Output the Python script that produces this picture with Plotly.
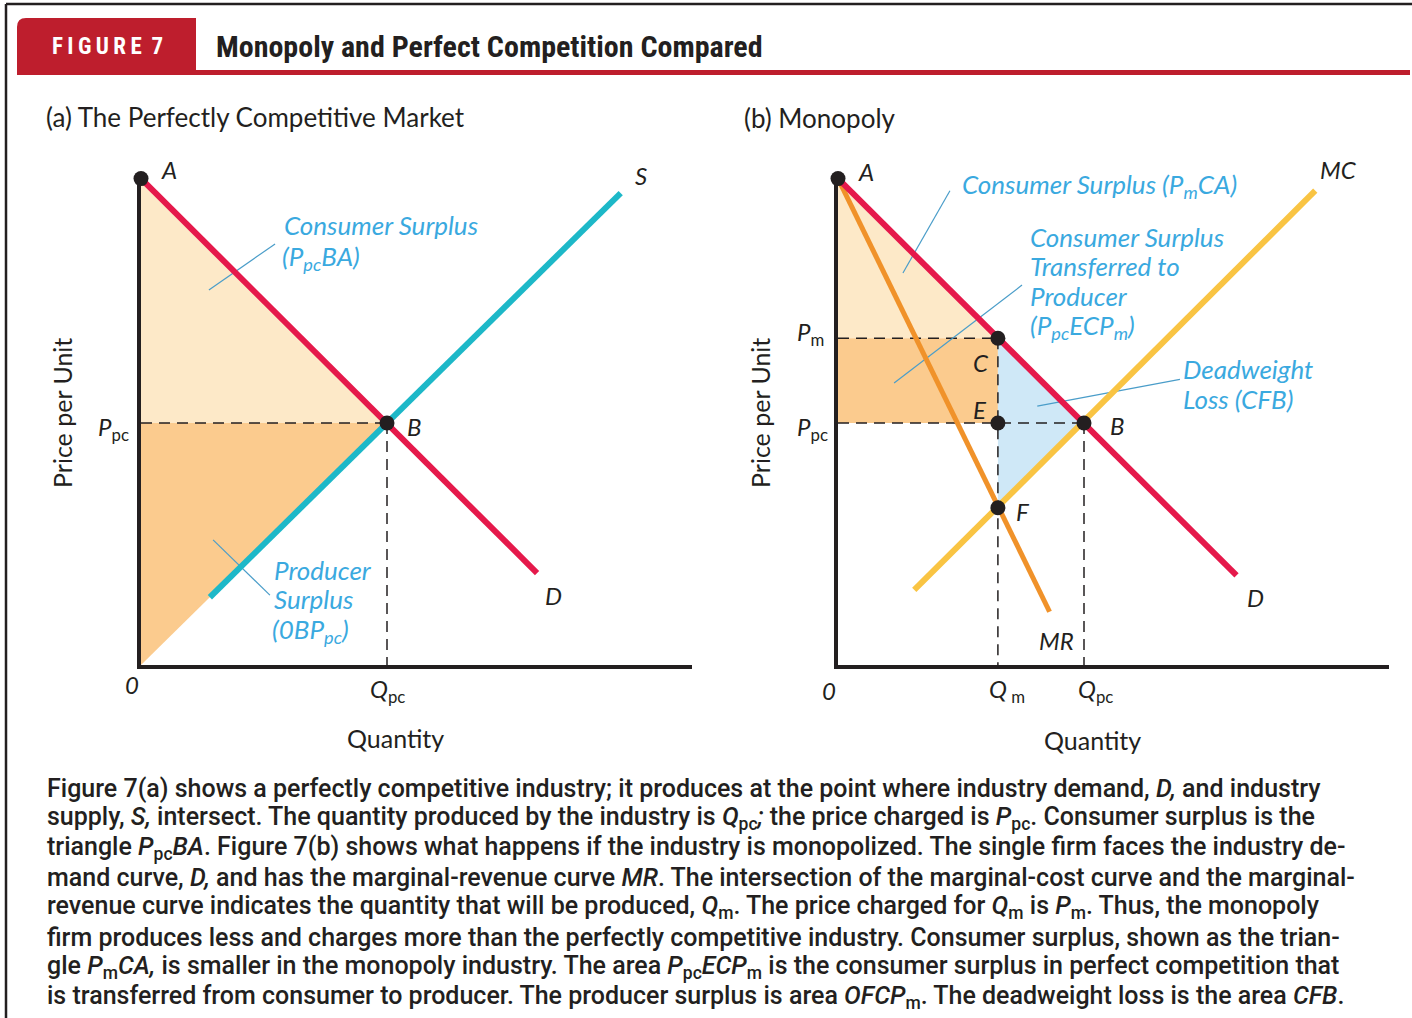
import plotly.graph_objects as go

W, H = 1412, 1018

# ---------------- panel (a): perfectly competitive market ----------------
a_choke = 20.1                  # demand price intercept (point A)
q_pc_a, p_pc_a = 10.0, 10.0     # competitive equilibrium (point B)
a_demand_q = [0.0, 16.1]
a_demand_p = [20.1, 3.8]
a_supply_q = [2.8, 19.5]
a_supply_p = [2.8, 19.5]

# ---------------- panel (b): monopoly ----------------
b_choke = 20.1
q_m, p_m = 6.5, 13.5            # monopoly output / price (point C)
q_pc_b, p_pc_b = 10.0, 10.0     # competitive output / price (point B)
p_f = 6.5                       # MR = MC (point F)
b_demand_q = [0.0, 16.2]
b_demand_p = [20.1, 3.7]
b_mr_q = [0.0, 8.6]
b_mr_p = [20.1, 2.2]
b_mc_q = [3.1, 19.4]
b_mc_p = [3.1, 19.6]

X_MAX = 22.4
Y_MAX = 20.1

# colours
RED = "#E5194B"
CYAN = "#1DB8C8"
ORANGE = "#F0922A"
GOLD = "#F9C443"
PEACH = "#FDE9C8"
TAN = "#FBCB8E"
ICE = "#CFE8F7"
INK = "#231F20"
BLUE_TXT = "#3AA9DF"
LEADER = "#4A9DC9"
BRAND = "#BE1E2D"

GEO = "Lato, 'Noto Sans', sans-serif"
NARROW = "'Roboto Condensed', Roboto, sans-serif"
BODY = "Roboto, 'Roboto Condensed', sans-serif"


def px(x):
    return x / W


def py(y):
    return 1 - y / H


fig = go.Figure()


def poly(xs, ys, color, xa, ya):
    fig.add_trace(go.Scatter(x=xs, y=ys, fill="toself", fillcolor=color, mode="lines",
                             line=dict(width=0), xaxis=xa, yaxis=ya, hoverinfo="skip"))


def line(xs, ys, color, width, xa, ya, dash=None):
    fig.add_trace(go.Scatter(x=xs, y=ys, mode="lines",
                             line=dict(color=color, width=width, dash=dash),
                             xaxis=xa, yaxis=ya, hoverinfo="skip", cliponaxis=False))


def dots(xs, ys, xa, ya):
    fig.add_trace(go.Scatter(x=xs, y=ys, mode="markers", marker=dict(color=INK, size=15),
                             xaxis=xa, yaxis=ya, hoverinfo="skip", cliponaxis=False))


DASH = "11px,7px"

# ---- panel (a) ----
poly([0, q_pc_a, 0], [p_pc_a, p_pc_a, a_choke], PEACH, "x", "y")
poly([0, q_pc_a, 0], [0, p_pc_a, p_pc_a], TAN, "x", "y")
line([0, q_pc_a], [p_pc_a, p_pc_a], INK, 1.5, "x", "y", DASH)
line([q_pc_a, q_pc_a], [p_pc_a, 0], INK, 1.5, "x", "y", DASH)
# leader lines for the surplus labels
line([2.76, 5.45], [15.5, 17.4], LEADER, 1.2, "x", "y")
line([2.93, 5.24], [5.17, 2.89], LEADER, 1.2, "x", "y")
line(a_supply_q, a_supply_p, CYAN, 6, "x", "y")
line(a_demand_q, a_demand_p, RED, 6, "x", "y")
dots([0, q_pc_a], [a_choke, p_pc_a], "x", "y")

# ---- panel (b) ----
poly([0, q_m, 0], [p_m, p_m, b_choke], PEACH, "x2", "y2")
poly([0, q_m, q_m, 0], [p_pc_b, p_pc_b, p_m, p_m], TAN, "x2", "y2")
poly([q_m, q_m, q_pc_b], [p_m, p_f, p_pc_b], ICE, "x2", "y2")
line([0, q_m], [p_m, p_m], INK, 1.5, "x2", "y2", DASH)
line([0, q_pc_b], [p_pc_b, p_pc_b], INK, 1.5, "x2", "y2", DASH)
line([q_m, q_m], [p_m, 0], INK, 1.5, "x2", "y2", DASH)
line([q_pc_b, q_pc_b], [p_pc_b, 0], INK, 1.5, "x2", "y2", DASH)
line([2.64, 4.55], [16.2, 19.6], LEADER, 1.2, "x2", "y2")
line([2.28, 7.48], [11.65, 15.7], LEADER, 1.2, "x2", "y2")
line([8.1, 13.9], [10.7, 11.8], LEADER, 1.2, "x2", "y2")
line(b_mc_q, b_mc_p, GOLD, 6, "x2", "y2")
line(b_mr_q, b_mr_p, ORANGE, 5, "x2", "y2")
line(b_demand_q, b_demand_p, RED, 6, "x2", "y2")
dots([0, q_m, q_m, q_pc_b, q_m], [b_choke, p_m, p_pc_b, p_pc_b, p_f], "x2", "y2")

# ---- annotations ----
ann = []


def text(s, x, y, size=24, color=INK, family=GEO, xanchor="center", angle=0,
         yanchor="middle", weight=None):
    font = dict(size=size, color=color, family=family)
    if weight:
        font["weight"] = weight
    ann.append(dict(text=s, x=px(x), y=py(y), xref="paper", yref="paper", showarrow=False,
                    xanchor=xanchor, yanchor=yanchor, textangle=angle, font=font))


# header
text("F\u2009I\u2009G\u2009U\u2009R\u2009E\u2009 7", 107, 47, size=23, color="white",
     family=NARROW, weight="bold")
text("Monopoly and Perfect Competition Compared", 214, 47, size=30, family=NARROW,
     xanchor="left", weight="bold")
text("(a) The Perfectly Competitive Market", 44, 117, size=26, xanchor="left")
text("(b) Monopoly", 742, 118, size=26, xanchor="left")

BT = 26  # size of the blue callout text

# panel (a) labels
text("<i>A</i>", 169, 170)
text("<i>B</i>", 414, 426)
text("<i>S</i>", 641, 175)
text("<i>D</i>", 553, 595)
text("<i>0</i>", 132, 684)
text("<i>Q</i><sub>pc</sub>", 368, 690, xanchor="left")
text("<i>P</i><sub>pc</sub>", 96, 428, xanchor="left")
text("Quantity", 395, 738, size=25)
text("Price per Unit", 62, 413, size=25, angle=-90)
text("<i>Consumer Surplus</i>", 282, 225, size=BT, color=BLUE_TXT, xanchor="left")
text("<i>(P<sub>pc</sub>BA)</i>", 280, 257, size=BT, color=BLUE_TXT, xanchor="left")
text("<i>Producer</i>", 272, 570, size=BT, color=BLUE_TXT, xanchor="left")
text("<i>Surplus</i>", 272, 599, size=BT, color=BLUE_TXT, xanchor="left")
text("<i>(0BP<sub>pc</sub>)</i>", 270, 630, size=BT, color=BLUE_TXT, xanchor="left")

# panel (b) labels
text("<i>A</i>", 866, 172)
text("<i>MC</i>", 1338, 170)
text("<i>P</i><sub>m</sub>", 795, 333, xanchor="left")
text("<i>P</i><sub>pc</sub>", 795, 428, xanchor="left")
text("<i>C</i>", 981, 362)
text("<i>E</i>", 980, 410)
text("<i>B</i>", 1117, 425)
text("<i>F</i>", 1023, 512)
text("<i>D</i>", 1255, 597)
text("<i>MR</i>", 1056, 640)
text("<i>0</i>", 829, 690)
text("<i>Q</i><sub> m</sub>", 987, 690, xanchor="left")
text("<i>Q</i><sub>pc</sub>", 1076, 690, xanchor="left")
text("Quantity", 1092, 740, size=25)
text("Price per Unit", 760, 413, size=25, angle=-90)
text("<i>Consumer Surplus (P<sub>m</sub>CA)</i>", 960, 185, size=BT, color=BLUE_TXT, xanchor="left")
text("<i>Consumer Surplus</i>", 1028, 237, size=BT, color=BLUE_TXT, xanchor="left")
text("<i>Transferred to</i>", 1028, 266, size=BT, color=BLUE_TXT, xanchor="left")
text("<i>Producer</i>", 1028, 296, size=BT, color=BLUE_TXT, xanchor="left")
text("<i>(P<sub>pc</sub>ECP<sub>m</sub>)</i>", 1028, 327, size=BT, color=BLUE_TXT, xanchor="left")
text("<i>Deadweight</i>", 1181, 369, size=BT, color=BLUE_TXT, xanchor="left")
text("<i>Loss (CFB)</i>", 1181, 399, size=BT, color=BLUE_TXT, xanchor="left")

# caption
caption = [
    "Figure 7(a) shows a perfectly competitive industry; it produces at the point where industry demand, <i>D,</i> and industry",
    "supply, <i>S,</i> intersect. The quantity produced by the industry is <i>Q</i><sub>pc</sub><i>;</i> the price charged is <i>P</i><sub>pc</sub>. Consumer surplus is the",
    "triangle <i>P</i><sub>pc</sub><i>BA</i>. Figure 7(b) shows what happens if the industry is monopolized. The single firm faces the industry de-",
    "mand curve, <i>D,</i> and has the marginal-revenue curve <i>MR</i>. The intersection of the marginal-cost curve and the marginal-",
    "revenue curve indicates the quantity that will be produced, <i>Q</i><sub>m</sub>. The price charged for <i>Q</i><sub>m</sub> is <i>P</i><sub>m</sub>. Thus, the monopoly",
    "firm produces less and charges more than the perfectly competitive industry. Consumer surplus, shown as the trian-",
    "gle <i>P</i><sub>m</sub><i>CA,</i> is smaller in the monopoly industry. The area <i>P</i><sub>pc</sub><i>ECP</i><sub>m</sub> is the consumer surplus in perfect competition that",
    "is transferred from consumer to producer. The producer surplus is area <i>OFCP</i><sub>m</sub>. The deadweight loss is the area <i>CFB</i>.",
]
for i, s in enumerate(caption):
    text(s, 45, 788 + i * 29.8, size=25, family=BODY, xanchor="left", weight=500)

# ---- decorative frame and header shapes ----
shapes = [
    dict(type="line", xref="paper", yref="paper", x0=px(6), x1=px(W), y0=py(4), y1=py(4),
         line=dict(color=INK, width=2.5)),
    dict(type="line", xref="paper", yref="paper", x0=px(6), x1=px(6), y0=py(4), y1=py(H),
         line=dict(color=INK, width=2.5)),
    dict(type="rect", xref="paper", yref="paper", x0=px(17), x1=px(1410), y0=py(75), y1=py(70),
         fillcolor=BRAND, line=dict(width=0), layer="below"),
    dict(type="path", xref="paper", yref="paper", fillcolor=BRAND, line=dict(width=0), layer="below",
         path=(f"M {px(17)},{py(75)} L {px(17)},{py(27)} Q {px(17)},{py(18)} {px(26)},{py(18)} "
               f"L {px(196)},{py(18)} L {px(196)},{py(75)} Z")),
]

axis_common = dict(showgrid=False, zeroline=False, showticklabels=False, ticks="",
                   showline=True, linecolor=INK, linewidth=4, fixedrange=True)

fig.update_layout(
    width=W, height=H, margin=dict(l=0, r=0, t=0, b=0),
    paper_bgcolor="white", plot_bgcolor="rgba(0,0,0,0)", showlegend=False,
    xaxis=dict(domain=[px(141), px(141 + X_MAX * 24.6)], range=[0, X_MAX], anchor="y", **axis_common),
    yaxis=dict(domain=[py(665), py(665 - Y_MAX * 24.2)], range=[0, Y_MAX], anchor="x", **axis_common),
    xaxis2=dict(domain=[px(838), px(838 + X_MAX * 24.6)], range=[0, X_MAX], anchor="y2", **axis_common),
    yaxis2=dict(domain=[py(665), py(665 - Y_MAX * 24.2)], range=[0, Y_MAX], anchor="x2", **axis_common),
    annotations=ann, shapes=shapes,
)

fig.write_html("out.html", config={"displayModeBar": False})
